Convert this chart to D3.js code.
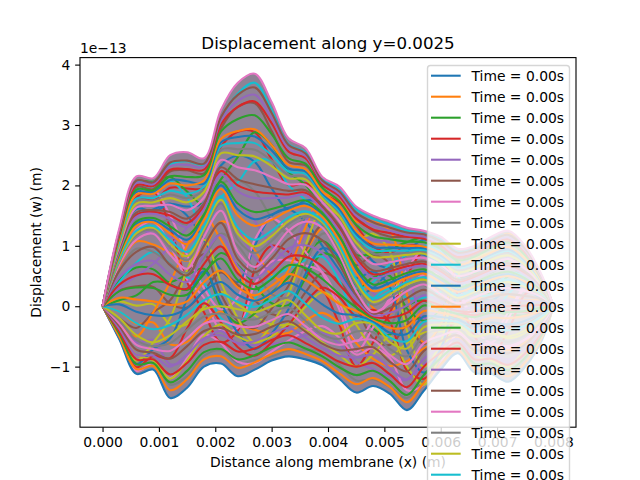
<!DOCTYPE html>
<html><head><meta charset="utf-8">
<style>html,body{margin:0;padding:0;background:#fff;overflow:hidden}svg{display:block}text{font-family:"DejaVu Sans";fill:#000}</style>
<script src="https://cdnjs.cloudflare.com/ajax/libs/d3/7.8.5/d3.min.js"></script>
</head><body><svg id="c" width="640" height="480"></svg>
<script>
// Distance along membrane (m)
const xs=[0,.0003,.0006,.0009,.0012,.0015,.0018,.0021,.0024,.0027,.003,.0033,.0036,.0039,.0042,.0045,.0048,.0051,.0054,.0057,.006,.0063,.0066,.0069,.0072,.0075,.0078,.008];
// Displacement in units of 1e-15 m. The reference overplots hundreds of curves; these are a hand-estimated subset.
const upperEdge=[0,130,215,212,250,255,245,325,370,385,338,278,262,214,198,165,150,140,130,125,115,95,100,115,125,100,50,0];
const lowerEdge=[0,-55,-112,-105,-152,-135,-100,-95,-116,-105,-90,-83,-88,-98,-120,-143,-132,-145,-172,-140,-105,-78,-110,-112,-125,-100,-55,0];
const t1=[0,120,197,194,223,225,220,294,330,336,290,239,233,200,185,149,125,115,115,112,99,79,85,99,107,85,43,0];
const t2=[0,109,179,175,196,195,196,264,289,288,243,200,204,186,172,134,99,89,100,98,84,64,70,84,89,70,37,0];
const t3=[0,98,161,157,169,165,171,233,249,239,195,160,175,172,158,118,74,64,85,85,68,48,55,68,71,55,30,0];
const t4=[0,88,143,139,142,135,147,202,208,190,147,121,147,158,145,102,48,38,70,71,52,32,40,52,53,40,23,0];
const t5=[0,78,125,120,115,105,122,171,168,141,100,81,118,144,132,86,22,12,55,58,36,16,25,36,35,25,16,0];
const t6=[0,67,107,102,88,75,97,140,127,93,52,41,89,129,119,70,-3,-13,40,44,20,1,10,21,17,10,10,0];
const c0=[0,60,95,90,70,55,80,120,100,60,20,15,70,120,110,60,-20,-30,30,35,10,-10,0,10,5,0,5,0];
const c1=[0,43,64,61,37,27,53,88,68,35,5,2,46,87,75,30,-37,-47,0,9,-7,-20,-16,-8,-14,-15,-4,0];
const c2=[0,26,33,32,4,-2,26,56,35,10,-13,-14,23,55,41,-1,-53,-64,-31,-17,-25,-31,-33,-27,-34,-30,-13,0];
const c3=[0,8,1,3,-30,-30,-1,24,3,-15,-30,-29,-1,23,6,-31,-70,-82,-61,-44,-42,-41,-50,-45,-53,-45,-22,0];
const c4=[0,-9,-29,-27,-63,-59,-28,-9,-30,-39,-46,-44,-24,-11,-28,-61,-87,-99,-91,-70,-59,-52,-66,-63,-73,-60,-31,0];
const c5=[0,-26,-60,-56,-96,-87,-55,-41,-62,-64,-63,-58,-48,-44,-62,-92,-104,-116,-122,-96,-76,-61,-83,-82,-93,-75,-40,0];
const c6=[0,-44,-91,-86,-130,-116,-82,-73,-94,-89,-83,-73,-72,-76,-97,-123,-121,-134,-152,-122,-94,-71,-99,-101,-113,-90,-50,0];
const e0=[0,100,180,190,130,40,-10,-60,-40,60,100,90,60,30,-30,-100,-60,-10,50,90,80,20,-50,-80,-40,20,30,0];
const e1=[0,70,126,140,100,44,14,-40,-36,36,74,76,68,56,6,-58,-24,10,32,52,52,26,-24,-46,-10,32,30,0];
const e2=[0,40,72,90,70,48,38,-20,-32,12,48,62,76,82,42,-16,12,30,14,14,24,32,2,-12,20,44,30,0];
const e3=[0,10,18,40,40,52,62,0,-28,-12,22,48,84,108,78,26,48,50,-4,-24,-4,38,28,22,50,56,30,0];
const e4=[0,-20,-36,-10,10,56,86,20,-24,-36,-4,34,92,134,114,68,84,70,-22,-62,-32,44,54,56,80,68,30,0];
const f0=[0,-50,-90,-60,-20,60,110,40,-20,-60,-30,20,100,160,150,110,120,90,-40,-100,-60,50,80,90,110,80,30,0];
const a1=[0,121,205,206,214,190,168,210,247,288,267,222,201,159,130,85,87,95,106,114,105,73,55,56,76,76,44,0];
const a2=[0,112,196,198,208,180,130,180,205,240,240,200,175,130,100,30,40,70,85,100,90,50,20,20,55,50,38,0];
const a3=[0,106,187,193,150,85,30,-5,15,110,145,125,90,55,-5,-75,-35,15,60,95,85,35,-35,-60,-20,30,32,0];
const b1=[0,-54,-107,-94,-119,-86,-47,-61,-92,-94,-75,-57,-41,-33,-52,-80,-69,-86,-139,-130,-94,-46,-63,-62,-66,-55,-34,0];
const b2=[0,-52,-101,-82,-86,-37,5,-27,-68,-82,-60,-31,6,31,15,-16,-6,-27,-106,-120,-82,-14,-15,-11,-7,-10,-12,0];
const b3=[0,-51,-96,-71,-53,11,58,6,-44,-71,-45,-5,53,96,83,47,57,31,-73,-110,-71,18,32,39,52,35,9,0];
const u1=[0,125,205,205,235,240,235,310,352,370,325,268,255,210,195,160,145,135,125,120,110,90,95,110,118,95,47,0];
const g1=[0,-30,-50,-10,40,100,150,110,60,10,20,60,130,185,175,140,140,125,20,-60,-30,70,90,105,120,90,40,0];
const g2=[0,30,50,70,100,130,170,170,130,80,60,85,140,170,160,120,110,105,60,-20,0,60,60,60,80,70,35,0];
const g3=[0,85,150,160,170,150,110,60,40,100,150,160,140,100,60,20,30,60,90,110,95,50,20,10,30,40,30,0];
const g4=[0,-40,-80,-90,-120,-90,-50,-30,-50,-60,-50,-30,-40,-60,-80,-100,-80,-50,-100,-130,-80,-30,-80,-90,-100,-70,-40,0];
const k01=[0,126,208,205,238,241,236,313,350,362,320,267,253,208,190,155,139,130,122,119,108,89,94,109,118,95,48,0];
const k02=[0,121,200,199,226,227,226,301,330,339,303,256,245,202,182,145,127,121,115,112,101,82,88,102,111,89,45,0];
const k03=[0,117,193,192,215,214,217,289,310,316,285,245,236,196,174,135,116,111,107,106,95,76,82,96,105,84,43,0];
const k04=[0,113,185,186,203,200,208,277,290,293,267,234,227,190,166,125,104,102,100,99,88,69,76,89,98,78,40,0];
const k05=[0,108,178,179,191,186,198,265,270,270,250,223,219,184,157,115,93,92,92,93,81,63,70,83,91,73,38,0];
const k06=[0,104,170,172,179,172,189,253,250,248,232,212,210,178,149,105,82,82,85,87,74,56,63,77,84,68,35,0];
const k07=[0,100,163,166,168,159,180,242,230,225,214,202,201,172,141,95,70,73,78,80,68,50,57,70,78,62,33,0];
const k08=[0,96,155,159,156,145,170,230,210,202,196,191,192,166,133,85,59,63,70,74,61,44,51,64,71,57,30,0];
const k09=[0,91,148,153,144,131,161,218,190,179,179,180,184,160,125,75,47,54,62,67,54,37,45,57,64,51,28,0];
const k10=[0,87,140,146,132,117,152,206,170,156,161,169,175,154,117,65,36,44,55,61,47,31,39,51,57,46,25,0];
const k11=[0,83,133,139,120,103,143,194,150,133,143,158,166,148,109,55,25,34,47,54,40,24,33,44,50,41,23,0];
const k12=[0,78,125,133,109,90,133,182,130,110,125,147,157,142,101,45,13,25,40,48,34,18,27,38,44,35,20,0];
const k13=[0,74,118,126,97,76,124,170,110,88,108,136,149,136,93,35,2,15,32,41,27,11,21,31,37,30,18,0];
const h1=[0,124,204,202,232,234,231,307,340,350,311,261,249,205,186,150,133,125,118,115,104,85,91,105,114,92,46,0];
const h2=[0,115,189,189,209,207,203,271,280,281,258,228,223,187,161,120,98,97,96,96,84,66,73,86,94,75,39,0];
const h3=[0,106,174,175,185,179,193,259,260,259,241,217,214,181,153,110,87,87,88,90,77,59,66,80,87,70,36,0];
const h4=[0,93,151,156,150,138,165,224,200,190,187,185,188,163,129,80,53,58,66,70,57,40,48,60,67,54,29,0];
const h5=[0,85,136,142,126,110,147,200,160,144,152,163,170,151,113,60,30,39,51,57,43,27,36,47,53,43,24,0];
const h6=[0,76,121,130,103,83,128,176,120,99,116,141,153,139,97,40,7,20,36,44,30,14,24,34,40,32,19,0];
const mid1=[0,70,110,120,85,62,115,158,90,65,90,125,140,130,85,25,-10,5,25,36,20,5,15,25,30,25,15,0];
const m1=[0,59,90,98,68,51,100,138,78,56,79,111,121,109,69,18,-12,-3,13,27,14,1,7,16,20,17,11,0];
const m2=[0,48,70,75,52,40,85,118,66,46,68,96,101,88,52,12,-15,-11,1,18,8,-4,-1,8,10,9,6,0];
const m3=[0,36,51,53,35,29,70,99,54,37,56,82,82,66,36,5,-17,-19,-11,9,1,-8,-9,-1,0,1,2,0];
const m4=[0,25,31,30,19,19,55,79,43,28,45,68,63,45,20,-2,-20,-28,-23,1,-5,-13,-18,-10,-10,-8,-2,0];
const m5=[0,14,11,8,2,8,40,59,31,18,34,53,43,24,4,-8,-22,-36,-34,-8,-11,-17,-26,-19,-20,-16,-7,0];
const m6=[0,3,-9,-15,-15,-3,25,40,19,9,22,39,24,3,-12,-15,-25,-44,-46,-17,-18,-22,-34,-27,-30,-24,-11,0];
const m7=[0,-9,-28,-38,-31,-14,10,20,7,-1,11,25,4,-19,-29,-21,-27,-52,-58,-26,-24,-26,-42,-36,-40,-32,-16,0];
const mid2=[0,-20,-48,-60,-48,-25,-5,0,-5,-10,0,10,-15,-40,-45,-28,-30,-60,-70,-35,-30,-30,-50,-45,-50,-40,-20,0];
const n1=[0,-24,-56,-66,-61,-39,-17,-12,-19,-22,-11,-2,-24,-47,-54,-42,-43,-71,-83,-48,-39,-36,-58,-53,-59,-48,-24,0];
const n2=[0,-29,-64,-71,-74,-53,-29,-24,-33,-34,-23,-13,-33,-55,-64,-57,-56,-81,-96,-61,-49,-42,-65,-62,-69,-55,-29,0];
const n3=[0,-33,-72,-77,-87,-66,-41,-36,-47,-46,-34,-25,-42,-62,-73,-71,-68,-92,-108,-74,-58,-48,-73,-70,-78,-63,-33,0];
const n4=[0,-38,-80,-82,-100,-80,-53,-48,-61,-58,-45,-36,-52,-69,-82,-85,-81,-103,-121,-87,-68,-54,-80,-79,-88,-70,-38,0];
const n5=[0,-42,-88,-88,-113,-94,-64,-59,-75,-70,-56,-48,-61,-76,-92,-100,-94,-113,-134,-100,-77,-60,-88,-87,-97,-78,-42,0];
const n6=[0,-46,-96,-94,-126,-107,-76,-71,-88,-81,-68,-60,-70,-83,-101,-114,-107,-124,-147,-114,-86,-66,-95,-95,-106,-85,-46,0];
const n7=[0,-51,-104,-99,-139,-121,-88,-83,-102,-93,-79,-71,-79,-91,-111,-129,-119,-134,-159,-127,-96,-72,-103,-104,-116,-93,-51,0];
const seriesValues=[g3,t6,c1,e0,t5,c2,e1,t4,c3,e2,t3,c4,e3,t2,c5,e4,a3,c6,f0,a2,b3,g1,a1,b2,g2,t1,b1,c0,g4,u1,
  lowerEdge,n7,n6,n5,n4,n3,n2,n1,mid2,m7,m6,m5,m4,m3,m2,m1,mid1,k13,h6,k12,h5,k11,k10,h4,k09,k08,k07,h3,k06,k05,h2,k04,k03,k02,h1,k01,upperEdge];
const xTicks=[0,.001,.002,.003,.004,.005,.006,.007,.008];
const yTicks=[-100,0,100,200,300,400];
const palette=["#1f77b4","#ff7f0e","#2ca02c","#d62728","#9467bd","#8c564b","#e377c2","#7f7f7f","#bcbd22","#17becf"];
const legendLabels=Array(21).fill("Time = 0.00s");

const svg=d3.select("#c");
const L=80,R=576,Tp=57.6,B=427.2;
const x=d3.scaleLinear().domain([-.0004,.0084]).range([L,R]);
const y=d3.scaleLinear().domain([-200.3,411.6]).range([B,Tp]);
const color=d3.scaleOrdinal(palette);
svg.append("clipPath").attr("id","ax").append("rect").attr("x",L).attr("y",Tp).attr("width",R-L).attr("height",B-Tp);
const plot=svg.append("g").attr("clip-path","url(#ax)");
const curve=d3.curveCatmullRom.alpha(.5);
plot.append("path")
  .attr("d",d3.area().x((d,i)=>x(xs[i])).y0((d,i)=>y(lowerEdge[i])).y1(d=>y(d)).curve(curve)(upperEdge))
  .attr("fill","#8f8295");
const line=d3.line().x((d,i)=>x(xs[i])).y(d=>y(d)).curve(curve);
plot.selectAll("path.s").data(seriesValues).join("path").attr("class","s")
  .attr("d",line).attr("fill","none").attr("stroke",(d,i)=>color(i%10)).attr("stroke-width",2.08);

const fmt=v=>String(v/100).replace("-","\u2212");
const ax=svg.append("g").attr("transform",`translate(0,${B})`).call(d3.axisBottom(x).tickValues(xTicks).tickFormat(d3.format(".3f")).tickSize(4.86).tickPadding(4.86));
const ay=svg.append("g").attr("transform",`translate(${L},0)`).call(d3.axisLeft(y).tickValues(yTicks).tickFormat(fmt).tickSize(4.86).tickPadding(4.86));
[ax,ay].forEach(g=>{g.select(".domain").remove();g.selectAll("line").attr("stroke","#000").attr("stroke-width",1.11);
  g.selectAll("text").attr("font-size",13.89).attr("font-family","DejaVu Sans").attr("fill","#000");});
svg.append("rect").attr("x",L).attr("y",Tp).attr("width",R-L).attr("height",B-Tp).attr("fill","none").attr("stroke","#000").attr("stroke-width",1.11);

svg.append("text").attr("x",328).attr("y",49).attr("text-anchor","middle").attr("font-size",16.67).text("Displacement along y=0.0025");
svg.append("text").attr("x",80).attr("y",53).attr("font-size",13.89).text("1e\u221213");
svg.append("text").attr("x",328).attr("y",467).attr("text-anchor","middle").attr("font-size",13.89).text("Distance along membrane (x) (m)");
svg.append("text").attr("transform","translate(41,242.4) rotate(-90)").attr("text-anchor","middle").attr("font-size",13.89).text("Displacement (w) (m)");

const lg=svg.append("g");
lg.append("rect").attr("x",427.5).attr("y",65.5).attr("width",142).attr("height",460).attr("rx",3)
  .attr("fill","#fff").attr("fill-opacity",.8).attr("stroke","#ccc").attr("stroke-opacity",.8).attr("stroke-width",1.39);
const row=d3.scaleLinear().domain([0,1]).range([75.7,96.7]);
const items=lg.selectAll("g").data(legendLabels).join("g").attr("transform",(d,i)=>`translate(0,${row(i)})`);
items.append("line").attr("x1",431).attr("x2",460.7).attr("stroke",(d,i)=>palette[i%10]).attr("stroke-width",2.08);
items.append("text").attr("x",471.5).attr("y",5).attr("font-size",13.89).text(d=>d);
</script></body></html>
